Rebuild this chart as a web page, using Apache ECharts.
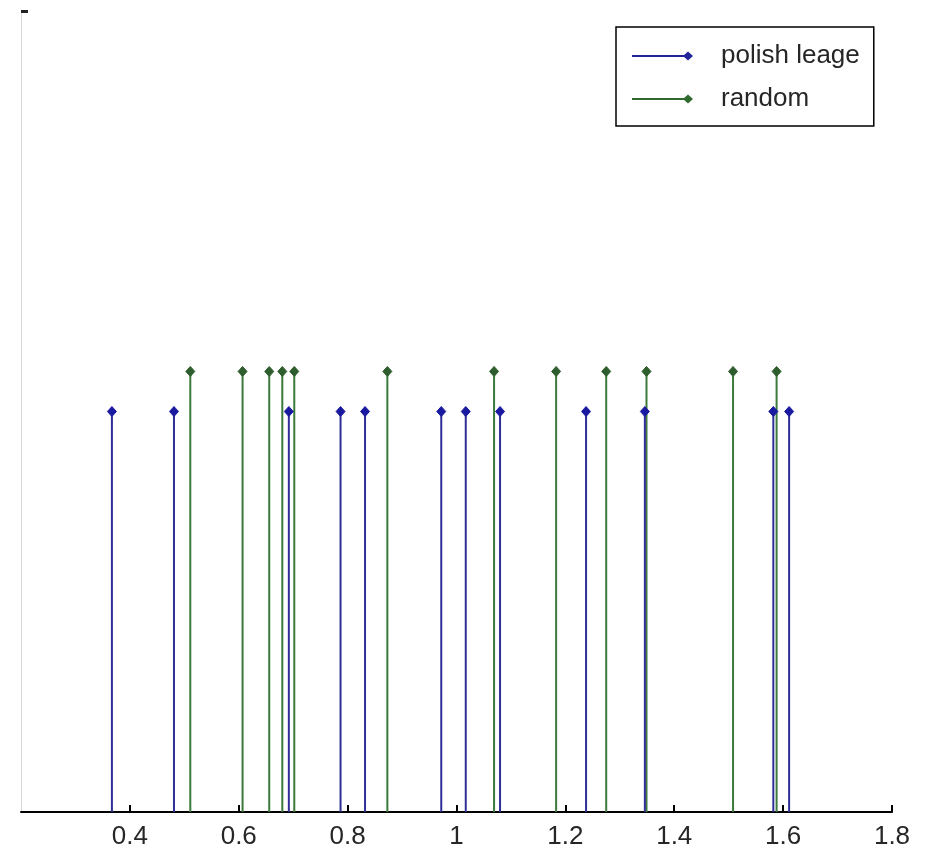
<!DOCTYPE html>
<html>
<head>
<meta charset="utf-8">
<script src="https://cdn.jsdelivr.net/npm/echarts@6/dist/echarts.min.js"></script>
<style>
  html, body { margin: 0; padding: 0; background: #fff; }
  #chart { width: 927px; height: 853px; }
</style>
</head>
<body>
<div id="chart"></div>
<script>
// ---- data ----
const seriesNames = ['polish leage', 'random'];
const polishX = [0.367, 0.481, 0.692, 0.787, 0.832, 0.972, 1.017, 1.080, 1.238, 1.346, 1.582, 1.611];
const polishY = [0.5, 0.5, 0.5, 0.5, 0.5, 0.5, 0.5, 0.5, 0.5, 0.5, 0.5, 0.5];
const randomX = [0.511, 0.607, 0.656, 0.680, 0.702, 0.873, 1.069, 1.183, 1.275, 1.349, 1.508, 1.588];
const randomY = [0.55, 0.55, 0.55, 0.55, 0.55, 0.55, 0.55, 0.55, 0.55, 0.55, 0.55, 0.55];
const xTicks = [0.4, 0.6, 0.8, 1.0, 1.2, 1.4, 1.6, 1.8];

const FONT = '"Liberation Sans", Arial, sans-serif';

function pairs(xs, ys) { return xs.map((x, i) => [x, ys[i]]); }

function stemRenderer(lineColor, markColor) {
  return function (params, api) {
    const base = api.coord([api.value(0), 0]);
    const top = api.coord([api.value(0), api.value(1)]);
    const r = 5;
    return {
      type: 'group',
      children: [
        { type: 'line', shape: { x1: base[0], y1: base[1], x2: top[0], y2: top[1] },
          style: { stroke: lineColor, lineWidth: 2 } },
        { type: 'polygon', shape: { points: [[top[0], top[1] - r], [top[0] + r * 0.9, top[1]], [top[0], top[1] + r], [top[0] - r * 0.9, top[1]]] },
          style: { fill: markColor, stroke: markColor, lineWidth: 1 } }
      ]
    };
  };
}

const chart = echarts.init(document.getElementById('chart'), null, { renderer: 'canvas' });
chart.setOption({
  backgroundColor: '#ffffff',
  animation: false,
  grid: { left: 21, right: 35, top: 11, bottom: 41, containLabel: false },
  legend: {
    data: seriesNames,
    orient: 'vertical',
    left: 616,
    top: 27,
    padding: [14, 14, 12, 16],
    itemGap: 13,
    itemWidth: 61,
    itemHeight: 10,
    icon: 'path://M0,4 L56,4 L56,6 L0,6 Z M56,0.5 L61,5 L56,9.5 L51,5 Z',
    borderColor: '#000',
    borderWidth: 1.5,
    backgroundColor: '#fff',
    selectedMode: false,
    textStyle: { fontFamily: FONT, fontSize: 26, color: '#262626', lineHeight: 30, padding: [0, 0, 0, 23] }
  },
  xAxis: {
    type: 'value',
    min: 0.2,
    max: 1.8,
    interval: 0.2,
    splitLine: { show: false },
    axisLine: { show: true, onZero: false, lineStyle: { color: '#000', width: 2 } },
    axisTick: { show: true, inside: true, length: 7, lineStyle: { color: '#000', width: 2 },
      customValues: xTicks },
    axisLabel: {
      margin: 12,
      fontFamily: FONT, fontSize: 26, color: '#262626',
      customValues: xTicks,
      formatter: function (v) {
        const r = Math.round(v * 10) / 10;
        return Math.abs(r - 1) < 1e-6 ? '1' : r.toFixed(1);
      }
    }
  },
  yAxis: {
    type: 'value',
    min: 0,
    max: 1,
    interval: 1,
    splitLine: { show: false },
    axisLine: { show: true, lineStyle: { color: '#d8d8d8', width: 1 } },
    axisTick: { show: true, inside: true, length: 7, lineStyle: { color: '#222', width: 3 }, customValues: [1] },
    axisLabel: { show: false }
  },
  series: [
    {
      name: seriesNames[0],
      type: 'custom',
      itemStyle: { color: '#23239a' },
      data: pairs(polishX, polishY),
      renderItem: stemRenderer('#2e2e96', '#1a1aa0'),
      z: 3
    },
    {
      name: seriesNames[1],
      type: 'custom',
      itemStyle: { color: '#2f6a2f' },
      data: pairs(randomX, randomY),
      renderItem: stemRenderer('#3b7a3b', '#2e5e2e'),
      z: 2
    }
  ]
});
</script>
</body>
</html>
